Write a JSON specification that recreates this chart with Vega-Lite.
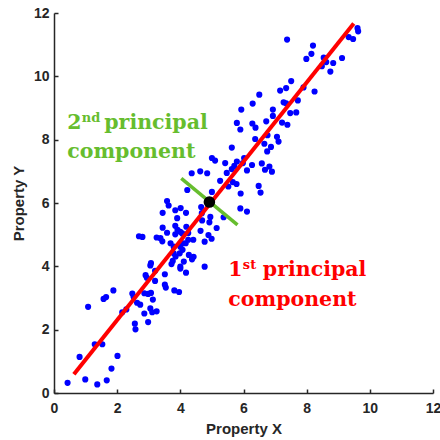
{
  "$schema": "https://vega.github.io/schema/vega-lite/v6.json",
  "autosize": "none",
  "width": 379,
  "height": 380,
  "padding": {"left": 54, "top": 13, "right": 7, "bottom": 47},
  "config": {
    "view": {"stroke": null},
    "axis": {
      "grid": false,
      "domainColor": "#262626",
      "domainWidth": 1.5,
      "tickColor": "#262626",
      "tickWidth": 1.5,
      "tickSize": -4,
      "labelFont": "Liberation Sans",
      "labelFontWeight": "bold",
      "labelFontSize": 14,
      "labelColor": "#262626",
      "titleFont": "Liberation Sans",
      "titleFontSize": 15,
      "titleFontWeight": "bold",
      "titleColor": "#262626",
      "labelFlush": false,
      "labelOverlap": false
    }
  },
  "layer": [
    {
      "data": {"values": [
        {"x":0.43,"y":0.32},{"x":0.99,"y":0.43},{"x":1.37,"y":0.27},{"x":1.67,"y":0.40},{"x":1.82,"y":0.77},
        {"x":2.01,"y":1.17},{"x":0.81,"y":1.14},{"x":1.29,"y":1.54},{"x":1.53,"y":1.54},{"x":1.08,"y":2.72},
        {"x":1.57,"y":2.97},{"x":1.65,"y":3.03},{"x":1.88,"y":3.24},{"x":2.16,"y":2.55},{"x":2.29,"y":2.64},
        {"x":2.56,"y":2.19},{"x":2.58,"y":2.01},{"x":2.48,"y":3.14},{"x":2.52,"y":3.04},{"x":2.63,"y":2.85},
        {"x":2.73,"y":2.79},{"x":2.86,"y":3.15},{"x":2.98,"y":3.13},{"x":3.07,"y":3.16},{"x":3.13,"y":2.95},
        {"x":2.86,"y":2.51},{"x":3.05,"y":2.67},{"x":3.11,"y":2.55},{"x":3.25,"y":2.58},{"x":2.98,"y":2.24},
        {"x":2.90,"y":3.72},{"x":2.94,"y":3.64},{"x":3.07,"y":4.10},{"x":3.05,"y":4.03},{"x":3.20,"y":3.86},
        {"x":3.20,"y":3.54},{"x":3.51,"y":3.75},{"x":3.51,"y":3.42},{"x":3.54,"y":3.33},{"x":3.81,"y":3.24},
        {"x":3.96,"y":3.19},{"x":2.69,"y":4.95},{"x":2.80,"y":4.93},{"x":3.25,"y":4.91},{"x":3.37,"y":4.89},
        {"x":3.43,"y":4.79},{"x":3.44,"y":5.22},{"x":3.58,"y":5.06},{"x":3.44,"y":5.69},{"x":3.58,"y":6.06},
        {"x":3.63,"y":5.92},{"x":3.84,"y":5.77},{"x":4.01,"y":5.84},{"x":4.18,"y":5.69},{"x":3.90,"y":5.52},
        {"x":3.84,"y":5.28},{"x":3.91,"y":5.15},{"x":4.00,"y":5.09},{"x":4.06,"y":5.04},{"x":3.84,"y":5.01},
        {"x":3.69,"y":4.73},{"x":3.79,"y":4.62},{"x":3.79,"y":4.41},{"x":3.85,"y":4.31},{"x":3.72,"y":4.07},
        {"x":3.76,"y":4.17},{"x":4.00,"y":4.62},{"x":4.08,"y":4.73},{"x":4.07,"y":4.52},{"x":3.98,"y":4.41},
        {"x":4.11,"y":4.15},{"x":4.00,"y":3.99},{"x":4.00,"y":3.93},{"x":4.18,"y":3.80},{"x":4.27,"y":4.36},
        {"x":4.37,"y":4.22},{"x":4.42,"y":4.30},{"x":4.25,"y":4.84},{"x":4.41,"y":4.84},{"x":4.25,"y":5.05},
        {"x":4.17,"y":4.73},{"x":4.64,"y":5.12},{"x":4.69,"y":5.45},{"x":4.77,"y":4.78},{"x":4.77,"y":3.99},
        {"x":4.89,"y":4.99},{"x":4.99,"y":4.87},{"x":4.92,"y":5.39},{"x":4.95,"y":5.56},{"x":5.15,"y":5.21},
        {"x":4.66,"y":5.87},{"x":4.68,"y":5.68},{"x":5.37,"y":5.55},{"x":5.90,"y":5.83},{"x":6.11,"y":5.73},
        {"x":5.00,"y":7.42},{"x":5.10,"y":7.34},{"x":4.36,"y":6.94},{"x":4.63,"y":7.00},{"x":4.85,"y":6.94},
        {"x":4.22,"y":6.41},{"x":5.00,"y":6.35},{"x":5.26,"y":6.70},{"x":5.42,"y":7.26},{"x":5.71,"y":7.17},
        {"x":5.63,"y":7.07},{"x":5.47,"y":6.95},{"x":5.79,"y":7.31},{"x":5.98,"y":7.26},{"x":6.02,"y":7.42},
        {"x":6.11,"y":7.03},{"x":6.27,"y":7.20},{"x":6.58,"y":7.25},{"x":6.68,"y":7.05},{"x":6.90,"y":6.99},
        {"x":6.82,"y":7.15},{"x":6.66,"y":7.87},{"x":6.75,"y":7.63},{"x":6.87,"y":7.77},{"x":7.11,"y":7.94},
        {"x":5.63,"y":7.75},{"x":5.66,"y":6.66},{"x":5.78,"y":6.60},{"x":5.52,"y":6.52},{"x":6.48,"y":6.54},
        {"x":6.54,"y":6.33},{"x":5.91,"y":6.30},{"x":5.93,"y":8.95},{"x":6.29,"y":9.14},{"x":6.50,"y":9.42},
        {"x":7.16,"y":9.55},{"x":7.35,"y":9.63},{"x":7.51,"y":9.85},{"x":7.90,"y":9.65},{"x":8.25,"y":9.52},
        {"x":7.27,"y":9.18},{"x":7.35,"y":9.15},{"x":7.72,"y":9.24},{"x":6.93,"y":8.95},{"x":6.93,"y":8.75},
        {"x":7.48,"y":8.84},{"x":7.67,"y":8.86},{"x":7.22,"y":8.54},{"x":7.39,"y":8.47},{"x":6.72,"y":8.58},
        {"x":5.79,"y":8.53},{"x":5.90,"y":8.32},{"x":6.28,"y":8.51},{"x":6.38,"y":8.38},{"x":6.37,"y":8.02},
        {"x":6.76,"y":8.14},{"x":7.06,"y":8.09},{"x":7.38,"y":11.16},{"x":8.20,"y":10.97},{"x":8.15,"y":10.71},
        {"x":7.99,"y":10.55},{"x":8.54,"y":10.59},{"x":8.62,"y":10.45},{"x":8.84,"y":10.42},{"x":8.48,"y":10.32},
        {"x":8.75,"y":10.15},{"x":9.12,"y":10.58},{"x":9.33,"y":11.24},{"x":9.47,"y":11.18},{"x":9.61,"y":11.52},
        {"x":9.63,"y":11.42},{"x":4.19,"y":5.25}
      ]},
      "mark": {"type": "circle", "size": 38, "color": "#0000ff", "opacity": 1},
      "encoding": {
        "x": {"field": "x", "type": "quantitative", "scale": {"domain": [0, 12], "nice": false},
              "axis": {"values": [0,2,4,6,8,10,12], "title": "Property X", "labelPadding": 12, "titlePadding": 6}},
        "y": {"field": "y", "type": "quantitative", "scale": {"domain": [0, 12], "nice": false},
              "axis": {"values": [0,2,4,6,8,10,12], "title": "Property Y", "labelPadding": 9, "titlePadding": 7}}
      }
    },
    {
      "data": {"values": [{"x": 0.63, "y": 0.59, "x2": 9.49, "y2": 11.67}]},
      "mark": {"type": "rule", "color": "#ff0000", "strokeWidth": 4, "strokeCap": "butt"},
      "encoding": {
        "x": {"field": "x", "type": "quantitative"},
        "y": {"field": "y", "type": "quantitative"},
        "x2": {"field": "x2"},
        "y2": {"field": "y2"}
      }
    },
    {
      "data": {"values": [{"x": 4.03, "y": 6.78, "x2": 5.81, "y2": 5.31}]},
      "mark": {"type": "rule", "color": "#66bd2e", "strokeWidth": 3.5, "strokeCap": "butt"},
      "encoding": {
        "x": {"field": "x", "type": "quantitative"},
        "y": {"field": "y", "type": "quantitative"},
        "x2": {"field": "x2"},
        "y2": {"field": "y2"}
      }
    },
    {
      "data": {"values": [{"x": 4.92, "y": 6.03}]},
      "mark": {"type": "circle", "size": 135, "color": "#000000", "opacity": 1},
      "encoding": {
        "x": {"field": "x", "type": "quantitative"},
        "y": {"field": "y", "type": "quantitative"}
      }
    },
    {
      "data": {"values": [{"x": 0.42, "y": 8.35, "t": "2"}, {"x": 0.42, "y": 7.43, "t": "component"}]},
      "mark": {"type": "text", "align": "left", "baseline": "alphabetic", "font": "DejaVu Serif", "fontWeight": "bold", "fontSize": 20.5, "color": "#66bd2e"},
      "encoding": {"x": {"field": "x", "type": "quantitative"}, "y": {"field": "y", "type": "quantitative"}, "text": {"field": "t"}}
    },
    {
      "data": {"values": [{"x": 0.42, "y": 8.35, "t": "nd"}]},
      "mark": {"type": "text", "align": "left", "baseline": "alphabetic", "font": "DejaVu Serif", "fontWeight": "bold", "fontSize": 13, "color": "#66bd2e", "dx": 14.5, "dy": -7},
      "encoding": {"x": {"field": "x", "type": "quantitative"}, "y": {"field": "y", "type": "quantitative"}, "text": {"field": "t"}}
    },
    {
      "data": {"values": [{"x": 0.42, "y": 8.35, "t": "principal"}]},
      "mark": {"type": "text", "align": "left", "baseline": "alphabetic", "font": "DejaVu Serif", "fontWeight": "bold", "fontSize": 20.5, "color": "#66bd2e", "dx": 37},
      "encoding": {"x": {"field": "x", "type": "quantitative"}, "y": {"field": "y", "type": "quantitative"}, "text": {"field": "t"}}
    },
    {
      "data": {"values": [{"x": 5.52, "y": 3.68, "t": "1"}, {"x": 5.52, "y": 2.76, "t": "component"}]},
      "mark": {"type": "text", "align": "left", "baseline": "alphabetic", "font": "DejaVu Serif", "fontWeight": "bold", "fontSize": 20.5, "color": "#ff0000"},
      "encoding": {"x": {"field": "x", "type": "quantitative"}, "y": {"field": "y", "type": "quantitative"}, "text": {"field": "t"}}
    },
    {
      "data": {"values": [{"x": 5.52, "y": 3.68, "t": "st"}]},
      "mark": {"type": "text", "align": "left", "baseline": "alphabetic", "font": "DejaVu Serif", "fontWeight": "bold", "fontSize": 13, "color": "#ff0000", "dx": 14.5, "dy": -7},
      "encoding": {"x": {"field": "x", "type": "quantitative"}, "y": {"field": "y", "type": "quantitative"}, "text": {"field": "t"}}
    },
    {
      "data": {"values": [{"x": 5.52, "y": 3.68, "t": "principal"}]},
      "mark": {"type": "text", "align": "left", "baseline": "alphabetic", "font": "DejaVu Serif", "fontWeight": "bold", "fontSize": 20.5, "color": "#ff0000", "dx": 34.5},
      "encoding": {"x": {"field": "x", "type": "quantitative"}, "y": {"field": "y", "type": "quantitative"}, "text": {"field": "t"}}
    }
  ]
}
